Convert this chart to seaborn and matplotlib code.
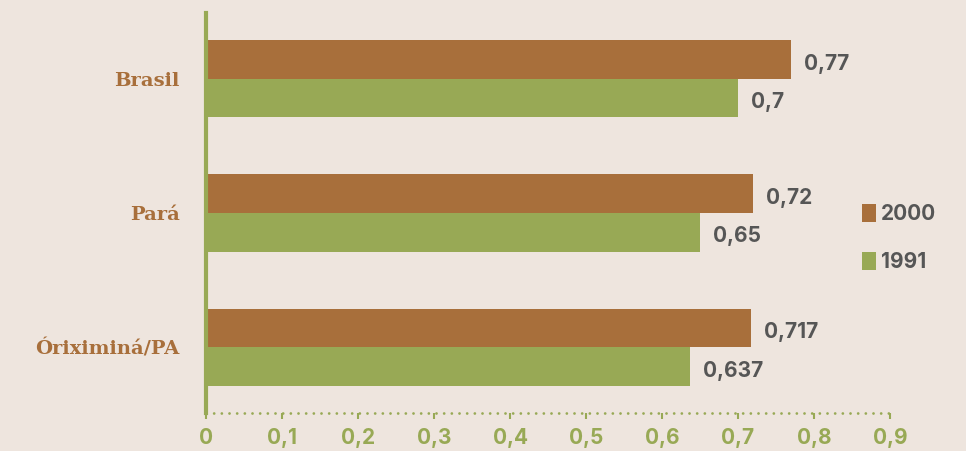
import matplotlib
matplotlib.use("Agg")
import matplotlib.pyplot as plt
import seaborn as sns
import pandas as pd
from matplotlib.patches import Patch

# IDH values by locality and census year
locais = ["Brasil", "Pará", "Óriximiná/PA"]
anos = ["2000", "1991"]
idh_2000 = [0.77, 0.72, 0.717]
idh_1991 = [0.7, 0.65, 0.637]
ticks_x = [0, 0.1, 0.2, 0.3, 0.4, 0.5, 0.6, 0.7, 0.8, 0.9]

bg = "#EEE5DE"
marrom = "#A86F3B"
verde = "#98A955"
cinza = "#565656"
fonte_num = "Inter"

df = pd.DataFrame({
    "local": locais * 2,
    "ano": [anos[0]] * 3 + [anos[1]] * 3,
    "idh": idh_2000 + idh_1991,
})

sns.set_theme(style="white")
plt.rcParams["font.family"] = ["DejaVu Sans"]

fig = plt.figure(figsize=(9.66, 4.51), dpi=100, facecolor=bg)
ax = fig.add_axes([206 / 966, 38 / 451, (890 - 206) / 966, 400 / 451])
ax.set_facecolor(bg)

sns.barplot(data=df, y="local", x="idh", hue="ano", order=locais,
            hue_order=anos, palette=[marrom, verde], orient="h",
            width=0.575, saturation=1, edgecolor="none", linewidth=0,
            legend=False, ax=ax)

ax.set_xlim(0, 0.9)
ax.set_ylim(2.49, -0.49)
ax.set_xlabel("")
ax.set_ylabel("")

# value labels with comma decimal separator
for cont in ax.containers:
    vals = [b.get_width() for b in cont]
    txts = ax.bar_label(cont, labels=[f"{v:g}".replace(".", ",") for v in vals],
                        padding=9.5, fontsize=15, fontweight="bold", color=cinza,
                        fontfamily=fonte_num)
    for t in txts:
        ox, oy = t.xyann
        t.xyann = (ox, oy - 3)

ax.set_xticks(ticks_x)
ax.set_xticklabels([f"{t:g}".replace(".", ",") for t in ticks_x],
                   fontsize=15, fontweight="bold", color=verde,
                   fontfamily=fonte_num)
ax.tick_params(axis="x", bottom=True, length=4, width=1.5, color=verde, pad=7)
ax.tick_params(axis="y", left=False, pad=13)
for lbl in ax.get_yticklabels():
    lbl.set_fontfamily("DejaVu Serif")
    lbl.set_fontweight("bold")
    lbl.set_fontsize(14)
    lbl.set_color(marrom)

for side in ["top", "right"]:
    ax.spines[side].set_visible(False)
ax.spines["left"].set_color(verde)
ax.spines["left"].set_linewidth(3)
ax.spines["bottom"].set_color(verde)
ax.spines["bottom"].set_linewidth(2.0)
ax.spines["bottom"].set_linestyle((0, (0.01, 2.75)))
ax.spines["bottom"].set_capstyle("round")

handles = [Patch(facecolor=marrom, edgecolor="none", label=anos[0]),
           Patch(facecolor=verde, edgecolor="none", label=anos[1])]
leg = fig.legend(handles=handles, loc="center left",
                 bbox_to_anchor=(862 / 966, 1 - 238 / 451), frameon=False,
                 handlelength=0.65, handleheight=0.95, handletextpad=0.25,
                 labelspacing=1.35, borderpad=0, borderaxespad=0,
                 prop={"family": fonte_num, "weight": "bold", "size": 15})
for t in leg.get_texts():
    t.set_color(cinza)

fig.savefig("out.png", dpi=100, facecolor=bg)
